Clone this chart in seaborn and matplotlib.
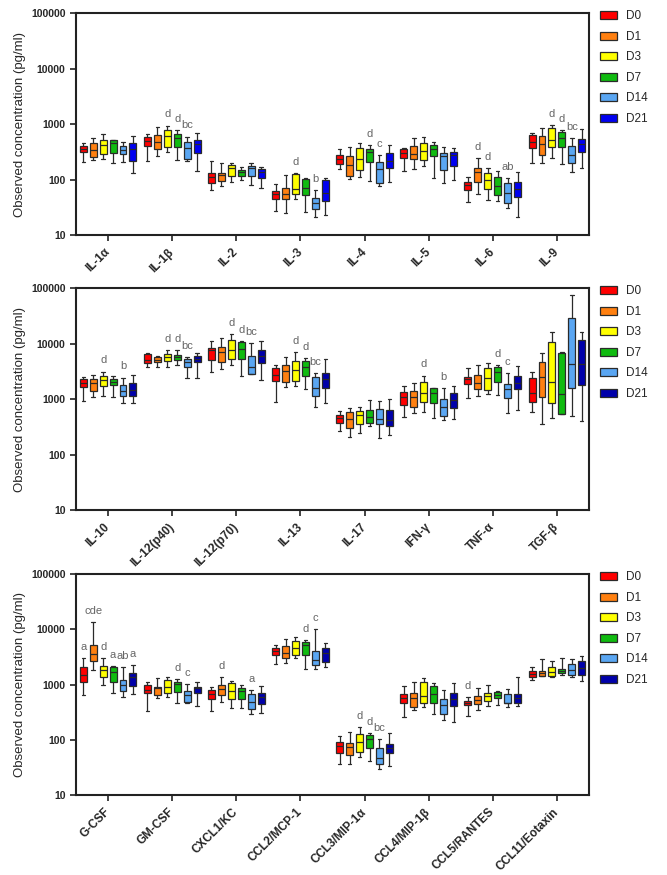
import numpy as np
import pandas as pd
import matplotlib.pyplot as plt
import seaborn as sns

# box stats per day: (min, Q1, median, Q3, max)
DAYS = ["D0", "D1", "D3", "D7", "D14", "D21"]

PANEL1_NAMES = ["IL-1α", "IL-1β", "IL-2", "IL-3", "IL-4", "IL-5", "IL-6", "IL-9"]
PANEL1_STATS = [
    [(205, 315, 350, 400, 460), (225, 255, 340, 450, 550), (235, 290, 420, 510, 650),
     (195, 305, 450, 510, 520), (210, 290, 340, 405, 465), (130, 220, 360, 450, 620)],
    [(220, 410, 500, 595, 660), (260, 355, 470, 640, 870), (310, 380, 610, 785, 940),
     (225, 380, 570, 655, 785), (220, 232, 366, 483, 595), (145, 306, 438, 518, 700)],
    [(65, 86, 113, 130, 216), (78, 95, 121, 133, 196), (89, 116, 160, 183, 196),
     (98, 116, 135, 149, 166), (80, 116, 160, 178, 196), (69, 105, 135, 155, 171)],
    [(27, 44, 55, 63, 82), (25, 44, 54, 71, 121), (45, 56, 68, 126, 130),
     (26, 53, 69, 101, 108), (21, 29, 37, 47, 64), (23, 41, 58, 98, 108)],
    [(153, 188, 235, 278, 357), (101, 118, 183, 267, 393), (110, 149, 235, 366, 464),
     (94, 204, 310, 357, 421), (78, 86, 153, 204, 278), (90, 164, 219, 306, 421)],
    [(145, 245, 298, 352, 377), (153, 232, 290, 409, 570), (176, 225, 333, 451, 595),
     (107, 270, 357, 421, 470), (86, 149, 260, 306, 393), (98, 178, 278, 319, 366)],
    [(39, 65, 80, 92, 110), (56, 89, 135, 164, 241), (43, 68, 98, 130, 164),
     (41, 53, 78, 113, 143), (31, 38, 58, 86, 105), (21, 49, 68, 89, 139)],
    [(196, 366, 483, 638, 703), (202, 278, 432, 611, 841), (248, 393, 518, 865, 953),
     (188, 382, 555, 712, 785), (139, 202, 278, 409, 555), (164, 319, 432, 532, 818)],
]
PANEL1_LETTERS = [
    ("IL-1β", "D3", "d"), ("IL-1β", "D7", "d"), ("IL-1β", "D14", "bc"),
    ("IL-3", "D3", "d"), ("IL-3", "D14", "b"),
    ("IL-4", "D7", "d"), ("IL-4", "D14", "c"),
    ("IL-6", "D1", "d"), ("IL-6", "D3", "d"), ("IL-6", "D14", "ab"),
    ("IL-9", "D3", "d"), ("IL-9", "D7", "d"), ("IL-9", "D14", "bc"),
]

PANEL2_NAMES = ["IL-10", "IL-12(p40)", "IL-12(p70)", "IL-13", "IL-17", "IFN-γ", "TNF-α", "TGF-β"]
PANEL2_STATS = [
    [(940, 1636, 1985, 2279, 2546), (1079, 1422, 1932, 2280, 2730), (1141, 1683, 2218, 2618, 3133),
     (1079, 1778, 2070, 2344, 2618), (841, 1141, 1403, 1803, 2443), (841, 1156, 1463, 1932, 2730)],
    [(3750, 4436, 5093, 6531, 6714), (3750, 4560, 5093, 5610, 6012), (3855, 4887, 5690, 6531, 7499),
     (4140, 5093, 5690, 6266, 7709), (2377, 3750, 4560, 5307, 5690), (2377, 4560, 5236, 6012, 6714)],
    [(3047, 5093, 7499, 8267, 10920), (3452, 4560, 6900, 8846, 12540), (4140, 5307, 7500, 11700, 15000),
     (2654, 5307, 8035, 10620, 10920), (2780, 2804, 3750, 5850, 10190), (2218, 4436, 5850, 7709, 10920)],
    [(877, 2128, 2730, 3700, 4140), (1636, 2013, 3265, 4030, 5610), (1753, 2128, 3356, 4753, 6900),
     (1503, 2618, 3855, 4753, 5458), (712, 1141, 1570, 2546, 2924), (865, 1570, 2313, 2924, 5307)],
    [(267, 366, 464, 518, 612), (205, 298, 432, 578, 684), (242, 352, 518, 612, 733),
     (328, 377, 483, 638, 967), (202, 357, 432, 656, 940), (226, 333, 421, 638, 1006)],
    [(470, 785, 1109, 1366, 1730), (555, 733, 1079, 1403, 1932), (595, 877, 1274, 2070, 2654),
     (451, 865, 1308, 1570, 1610), (421, 497, 733, 1006, 1570), (438, 703, 967, 1274, 1683)],
    [(1035, 1853, 2279, 2546, 3597), (1156, 1503, 1985, 2730, 4140), (1222, 1463, 2377, 3597, 4436),
     (1189, 2013, 3133, 3750, 4140), (570, 1065, 1503, 1879, 2924), (638, 1503, 1985, 2618, 3970)],
    [(595, 877, 1308, 2443, 3133), (357, 1109, 2546, 4624, 6714), (464, 841, 2070, 10620, 15850),
     (532, 540, 1222, 6714, 6900), (503, 1614, 4316, 28770, 75860), (404, 1803, 4316, 11380, 16070)],
]
PANEL2_LETTERS = [
    ("IL-10", "D3", "d"), ("IL-10", "D14", "b"),
    ("IL-12(p40)", "D3", "d"), ("IL-12(p40)", "D7", "d"), ("IL-12(p40)", "D14", "bc"),
    ("IL-12(p70)", "D3", "d"), ("IL-12(p70)", "D7", "d"), ("IL-12(p70)", "D14", "bc"),
    ("IL-13", "D3", "d"), ("IL-13", "D7", "d"), ("IL-13", "D14", "bc"),
    ("IFN-γ", "D3", "d"), ("IFN-γ", "D14", "b"),
    ("TNF-α", "D7", "d"), ("TNF-α", "D14", "c"),
]

PANEL3_NAMES = ["G-CSF", "GM-CSF", "CXCL1/KC", "CCL2/MCP-1", "CCL3/MIP-1α",
                "CCL4/MIP-1β", "CCL5/RANTES", "CCL11/Eotaxin"]
PANEL3_STATS = [
    [(646, 1094, 1486, 2104, 2978), (1828, 2660, 3563, 5190, 13700), (980, 1386, 1828, 2163, 3062),
     (712, 1125, 1660, 2046, 2163), (603, 762, 980, 1208, 2046), (673, 940, 1386, 1636, 2254)],
    [(331, 692, 795, 980, 1125), (562, 646, 853, 915, 1294), (586, 692, 889, 1208, 1386),
     (469, 741, 1020, 1125, 1242), (469, 490, 646, 773, 1020), (414, 692, 853, 915, 1125)],
    [(331, 540, 673, 795, 915), (476, 646, 817, 980, 1386), (371, 540, 762, 1079, 1172),
     (371, 540, 762, 877, 980), (289, 356, 490, 673, 795), (309, 437, 603, 692, 940)],
    [(2350, 3420, 4092, 4518, 5190), (2483, 2978, 3770, 5046, 6561), (3062, 3420, 4645, 6125, 7142),
     (1910, 3420, 5190, 5794, 6382), (1910, 2254, 2775, 4036, 10000), (2046, 2588, 3770, 4518, 5560)],
    [(36, 58, 77, 92, 119), (36, 52, 73, 86, 136), (49, 59, 92, 127, 168),
     (41, 70, 103, 122, 131), (30, 36, 46, 72, 102), (34, 57, 70, 84, 134)],
    [(262, 469, 578, 673, 953), (345, 386, 562, 692, 1094), (397, 456, 619, 1094, 1294),
     (292, 456, 673, 953, 1079), (228, 292, 426, 540, 795), (207, 414, 540, 692, 1050)],
    [(269, 426, 469, 511, 586), (345, 444, 525, 628, 853), (409, 511, 619, 712, 980),
     (426, 562, 646, 721, 773), (397, 456, 469, 673, 817), (414, 469, 562, 673, 1349)],
    [(1208, 1386, 1549, 1756, 2046), (1400, 1445, 1592, 1756, 2851), (1349, 1426, 1709, 2046, 2698),
     (1486, 1592, 1778, 1910, 2978), (1349, 1486, 1828, 2319, 2851), (1172, 1486, 1963, 2698, 3327)],
]
PANEL3_LETTERS = [
    ("G-CSF", "D0", "a"), ("G-CSF", "D1", "cde"), ("G-CSF", "D3", "d"),
    ("G-CSF", "D7", "a"), ("G-CSF", "D14", "ab"), ("G-CSF", "D21", "a"),
    ("GM-CSF", "D7", "d"), ("GM-CSF", "D14", "c"),
    ("CXCL1/KC", "D1", "d"), ("CXCL1/KC", "D14", "a"),
    ("CCL2/MCP-1", "D7", "d"), ("CCL2/MCP-1", "D14", "c"),
    ("CCL3/MIP-1α", "D3", "d"), ("CCL3/MIP-1α", "D7", "d"), ("CCL3/MIP-1α", "D14", "bc"),
    ("CCL5/RANTES", "D0", "d"),
]

YTICKS = [10, 100, 1000, 10000, 100000]
PALETTE_TOP = ["#FF0000", "#FF8010", "#FFFF00", "#10BB10", "#5AA6F2", "#0000F0"]
PALETTE_LOW = ["#FF0000", "#FF8010", "#FFFF00", "#10BB10", "#5AA6F2", "#0000AA"]

BOX_WIDTH = 0.93


def to_long(names, stats):
    # five points per box -> quartiles land exactly on the stored values
    rows = []
    for name, boxes in zip(names, stats):
        for day, five in zip(DAYS, boxes):
            for v in five:
                rows.append({"cytokine": name, "day": day, "value": v})
    return pd.DataFrame(rows)


def draw_panel(ax, names, stats, letters, palette):
    df = to_long(names, stats)
    sns.boxplot(
        data=df, x="cytokine", y="value", hue="day",
        order=names, hue_order=DAYS, palette=palette,
        whis=(0, 100), width=BOX_WIDTH, gap=0.3, saturation=1,
        log_scale=True, linecolor="#2a2a2a", linewidth=0.9, ax=ax,
    )
    ax.set_ylim(10, 100000)
    ax.set_xlim(-0.5, len(names) - 0.5)
    ax.yaxis.set_minor_locator(plt.NullLocator())
    ax.set_yticks(YTICKS)
    ax.set_yticklabels([str(t) for t in YTICKS], fontsize=7.5, fontweight="bold")
    ax.set_xticks(range(len(names)))
    ax.set_xticklabels(names, rotation=45, ha="right", va="center",
                       rotation_mode="anchor", fontsize=8.5, fontweight="bold")
    ax.tick_params(axis="both", length=4, width=1.2, color="#222222")
    ax.tick_params(axis="x", pad=7)
    ax.set_xlabel("")
    ax.set_ylabel("Observed concentration (pg/ml)", fontsize=9.5)
    for side in ["left", "bottom", "top", "right"]:
        ax.spines[side].set_visible(True)
        ax.spines[side].set_linewidth(1.5)
        ax.spines[side].set_color("#222222")

    # significance letters above the upper whisker
    slot = BOX_WIDTH / len(DAYS)
    for name, day, txt in letters:
        i = names.index(name)
        j = DAYS.index(day)
        x = i - BOX_WIDTH / 2 + slot * (j + 0.5)
        y = stats[i][j][4] * 10 ** 0.2
        ax.text(x, y, txt, ha="center", va="center", fontsize=8, color="#666666")

    sns.move_legend(
        ax, "upper left", bbox_to_anchor=(1.022, 1.012), frameon=False, title=None,
        fontsize=8.5, handlelength=1.4, handleheight=0.7, labelspacing=0.72,
        handletextpad=0.8, borderaxespad=0, borderpad=0,
    )


sns.set_style("ticks")
plt.rcParams["font.family"] = ["Liberation Sans", "DejaVu Sans"]

fig = plt.figure(figsize=(6.67, 8.75), dpi=100)
ax1 = fig.add_axes([0.114, 0.7314, 0.769, 0.2537])
ax2 = fig.add_axes([0.114, 0.4171, 0.769, 0.2537])
ax3 = fig.add_axes([0.114, 0.0914, 0.769, 0.2526])

draw_panel(ax1, PANEL1_NAMES, PANEL1_STATS, PANEL1_LETTERS, PALETTE_TOP)
draw_panel(ax2, PANEL2_NAMES, PANEL2_STATS, PANEL2_LETTERS, PALETTE_LOW)
draw_panel(ax3, PANEL3_NAMES, PANEL3_STATS, PANEL3_LETTERS, PALETTE_LOW)

fig.savefig("out.png", dpi=100)
